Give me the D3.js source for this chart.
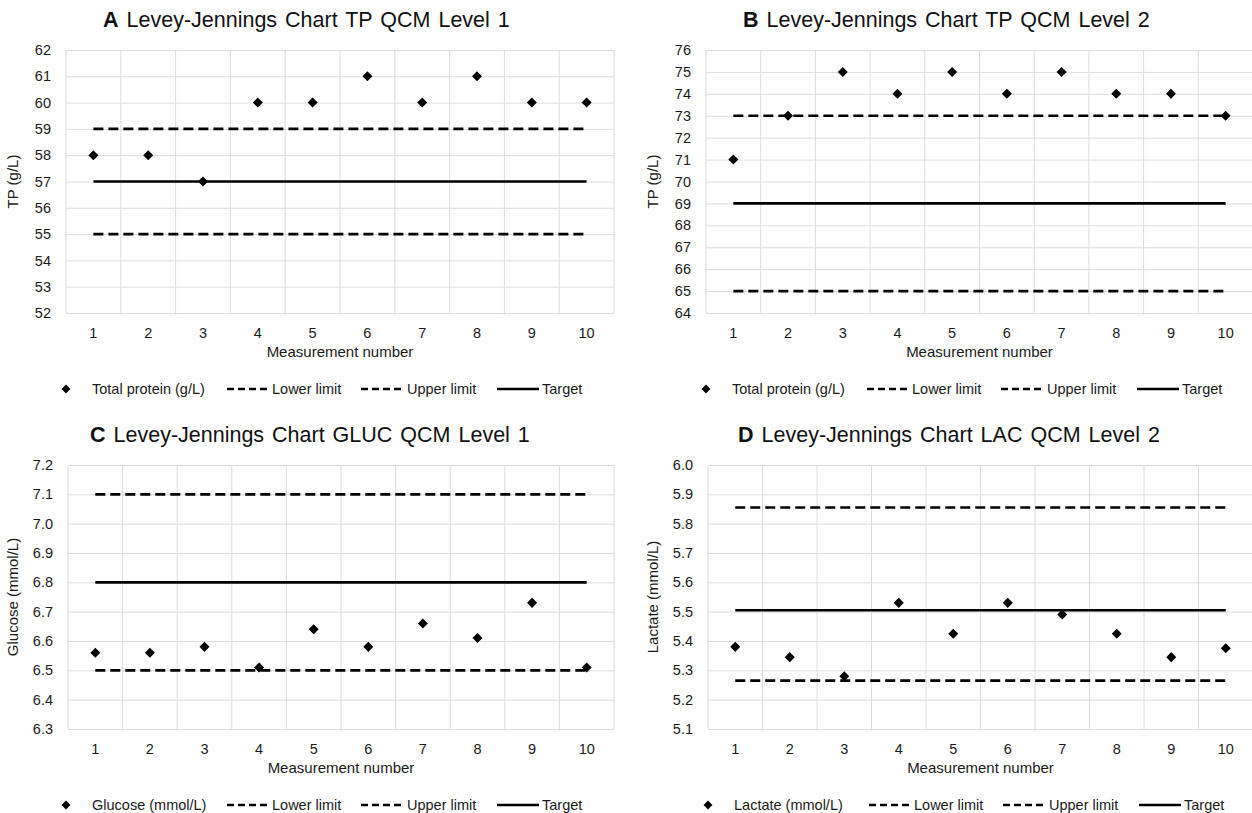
<!DOCTYPE html>
<html>
<head>
<meta charset="utf-8">
<script src="https://cdn.jsdelivr.net/npm/d3@7"></script>
<style>
  body { margin: 0; background: #fff; }
  svg { font-family: "Liberation Sans", Arial, sans-serif; }
</style>
</head>
<body>
<svg id="chart" width="1252" height="813"></svg>
<script>
// measurement numbers shared by all four panels
var measurements = [1, 2, 3, 4, 5, 6, 7, 8, 9, 10];

// A: total protein level 1
var tpLevel1 = [58, 58, 57, 60, 60, 61, 60, 61, 60, 60];
var tpLevel1Limits = [55, 59, 57];          // lower, upper, target
var tpLevel1Ticks = [52, 53, 54, 55, 56, 57, 58, 59, 60, 61, 62];

// B: total protein level 2
var tpLevel2 = [71, 73, 75, 74, 75, 74, 75, 74, 74, 73];
var tpLevel2Limits = [65, 73, 69];
var tpLevel2Ticks = [64, 65, 66, 67, 68, 69, 70, 71, 72, 73, 74, 75, 76];

// C: glucose level 1
var glucLevel1 = [6.56, 6.56, 6.58, 6.51, 6.64, 6.58, 6.66, 6.61, 6.73, 6.51];
var glucLevel1Limits = [6.5, 7.1, 6.8];
var glucLevel1Ticks = [6.3, 6.4, 6.5, 6.6, 6.7, 6.8, 6.9, 7.0, 7.1, 7.2];

// D: lactate level 2
var lacLevel2 = [5.38, 5.345, 5.28, 5.53, 5.425, 5.53, 5.49, 5.425, 5.345, 5.375];
var lacLevel2Limits = [5.265, 5.855, 5.505];
var lacLevel2Ticks = [5.1, 5.2, 5.3, 5.4, 5.5, 5.6, 5.7, 5.8, 5.9, 6.0];

var svg = d3.select("#chart");

function makePanel(opt) {
	var g = svg.append("g");
	var left = opt.left, right = opt.right, top = opt.top, bottom = opt.bottom;

	var x = d3.scaleBand().domain(measurements).range([left, right]);
	var y = d3.scaleLinear()
		.domain(d3.extent(opt.ticks))
		.range([bottom, top]);

	// horizontal grid
	g.append("g")
		.attr("transform", "translate(" + left + ",0)")
		.call(d3.axisLeft(y).tickValues(opt.ticks).tickSize(-(right - left)).tickFormat(""))
		.call(function(a) {
			a.select(".domain").remove();
			a.selectAll("line").attr("stroke", "#dcdcdc").attr("stroke-width", 1);
		});

	// vertical grid at category boundaries
	g.selectAll(".vgrid")
		.data(measurements.concat(["end"]))
		.enter().append("line")
		.attr("x1", function(d) { return d === "end" ? right : x(d); })
		.attr("x2", function(d) { return d === "end" ? right : x(d); })
		.attr("y1", top)
		.attr("y2", bottom)
		.attr("stroke", "#dcdcdc")
		.attr("stroke-width", 1);

	// y tick labels
	g.append("g")
		.attr("transform", "translate(" + (left - 12) + ",0)")
		.call(d3.axisLeft(y).tickValues(opt.ticks).tickSize(0).tickFormat(opt.fmt))
		.call(function(a) {
			a.select(".domain").remove();
			a.selectAll("text").attr("font-size", 14.5).attr("fill", "#1a1a1a")
				.attr("font-family", "Liberation Sans, Arial, sans-serif");
		});

	// x tick labels
	g.append("g")
		.attr("transform", "translate(0," + (bottom + 12) + ")")
		.call(d3.axisBottom(x).tickSize(0))
		.call(function(a) {
			a.select(".domain").remove();
			a.selectAll("text").attr("font-size", 14.5).attr("fill", "#1a1a1a")
				.attr("font-family", "Liberation Sans, Arial, sans-serif");
		});

	// axis titles
	g.append("text")
		.text("Measurement number")
		.attr("x", (left + right) / 2)
		.attr("y", bottom + 44)
		.attr("text-anchor", "middle")
		.attr("font-size", 15)
		.attr("fill", "#1a1a1a");

	g.append("text")
		.text(opt.yTitle)
		.attr("transform", "translate(" + opt.yTitleX + "," + ((top + bottom) / 2) + ") rotate(-90)")
		.attr("text-anchor", "middle")
		.attr("font-size", 15)
		.attr("fill", "#1a1a1a");

	// title
	var t = g.append("text")
		.attr("x", opt.titleX)
		.attr("y", top - 23)
		.attr("font-size", 21.5)
		.attr("word-spacing", 2)
		.attr("fill", "#111");
	t.append("tspan").text(opt.letter).attr("font-weight", "bold");
	t.append("tspan").text(" " + opt.title);

	// limit lines
	var x1 = x(1) + x.bandwidth() / 2;
	var x2 = x(10) + x.bandwidth() / 2;
	var styles = [
		{ v: opt.limits[0], dash: "10,5" },
		{ v: opt.limits[1], dash: "10,5" },
		{ v: opt.limits[2], dash: null }
	];
	styles.forEach(function(s) {
		g.append("line")
			.attr("x1", x1).attr("x2", x2)
			.attr("y1", y(s.v)).attr("y2", y(s.v))
			.attr("stroke", "#000")
			.attr("stroke-width", 2.6)
			.attr("stroke-dasharray", s.dash);
	});

	// data points
	g.selectAll(".pt")
		.data(opt.values)
		.enter().append("path")
		.attr("d", d3.symbol().type(d3.symbolDiamond2).size(64))
		.attr("transform", function(d, i) {
			return "translate(" + (x(measurements[i]) + x.bandwidth() / 2) + "," + y(d) + ")";
		})
		.attr("fill", "#000");

	// legend
	var ly = opt.legendY;
	var lx = opt.legendX;
	var leg = g.append("g").attr("font-size", 14.5).attr("fill", "#1a1a1a");
	leg.append("path")
		.attr("d", d3.symbol().type(d3.symbolDiamond2).size(50))
		.attr("transform", "translate(" + lx + "," + ly + ")")
		.attr("fill", "#000");
	leg.append("text").text(opt.series).attr("x", lx + 26).attr("y", ly + 5);

	var items = [
		{ label: "Lower limit", dash: "7,4", off: 161, len: 42 },
		{ label: "Upper limit", dash: "7,4", off: 295, len: 43 },
		{ label: "Target", dash: null, off: 431, len: 42 }
	];
	items.forEach(function(it) {
		leg.append("line")
			.attr("x1", lx + it.off).attr("x2", lx + it.off + it.len)
			.attr("y1", ly).attr("y2", ly)
			.attr("stroke", "#000").attr("stroke-width", 2.5)
			.attr("stroke-dasharray", it.dash);
		leg.append("text").text(it.label)
			.attr("x", lx + it.off + it.len + 3).attr("y", ly + 5);
	});
}

makePanel({
	letter: "A", title: "Levey-Jennings Chart TP QCM Level 1",
	values: tpLevel1, limits: tpLevel1Limits, ticks: tpLevel1Ticks,
	fmt: d3.format("d"), yTitle: "TP (g/L)", series: "Total protein (g/L)",
	left: 66, right: 614, top: 50, bottom: 313,
	yTitleX: 18, titleX: 103, legendX: 66, legendY: 389
});

makePanel({
	letter: "B", title: "Levey-Jennings Chart TP QCM Level 2",
	values: tpLevel2, limits: tpLevel2Limits, ticks: tpLevel2Ticks,
	fmt: d3.format("d"), yTitle: "TP (g/L)", series: "Total protein (g/L)",
	left: 706, right: 1253, top: 50, bottom: 313,
	yTitleX: 658, titleX: 743, legendX: 706, legendY: 389
});

makePanel({
	letter: "C", title: "Levey-Jennings Chart GLUC QCM Level 1",
	values: glucLevel1, limits: glucLevel1Limits, ticks: glucLevel1Ticks,
	fmt: d3.format(".1f"), yTitle: "Glucose (mmol/L)", series: "Glucose (mmol/L)",
	left: 68, right: 614, top: 465, bottom: 729,
	yTitleX: 18, titleX: 90, legendX: 66, legendY: 805
});

makePanel({
	letter: "D", title: "Levey-Jennings Chart LAC QCM Level 2",
	values: lacLevel2, limits: lacLevel2Limits, ticks: lacLevel2Ticks,
	fmt: d3.format(".1f"), yTitle: "Lactate (mmol/L)", series: "Lactate (mmol/L)",
	left: 708, right: 1253, top: 465, bottom: 729,
	yTitleX: 658, titleX: 738, legendX: 708, legendY: 805
});
</script>
</body>
</html>
